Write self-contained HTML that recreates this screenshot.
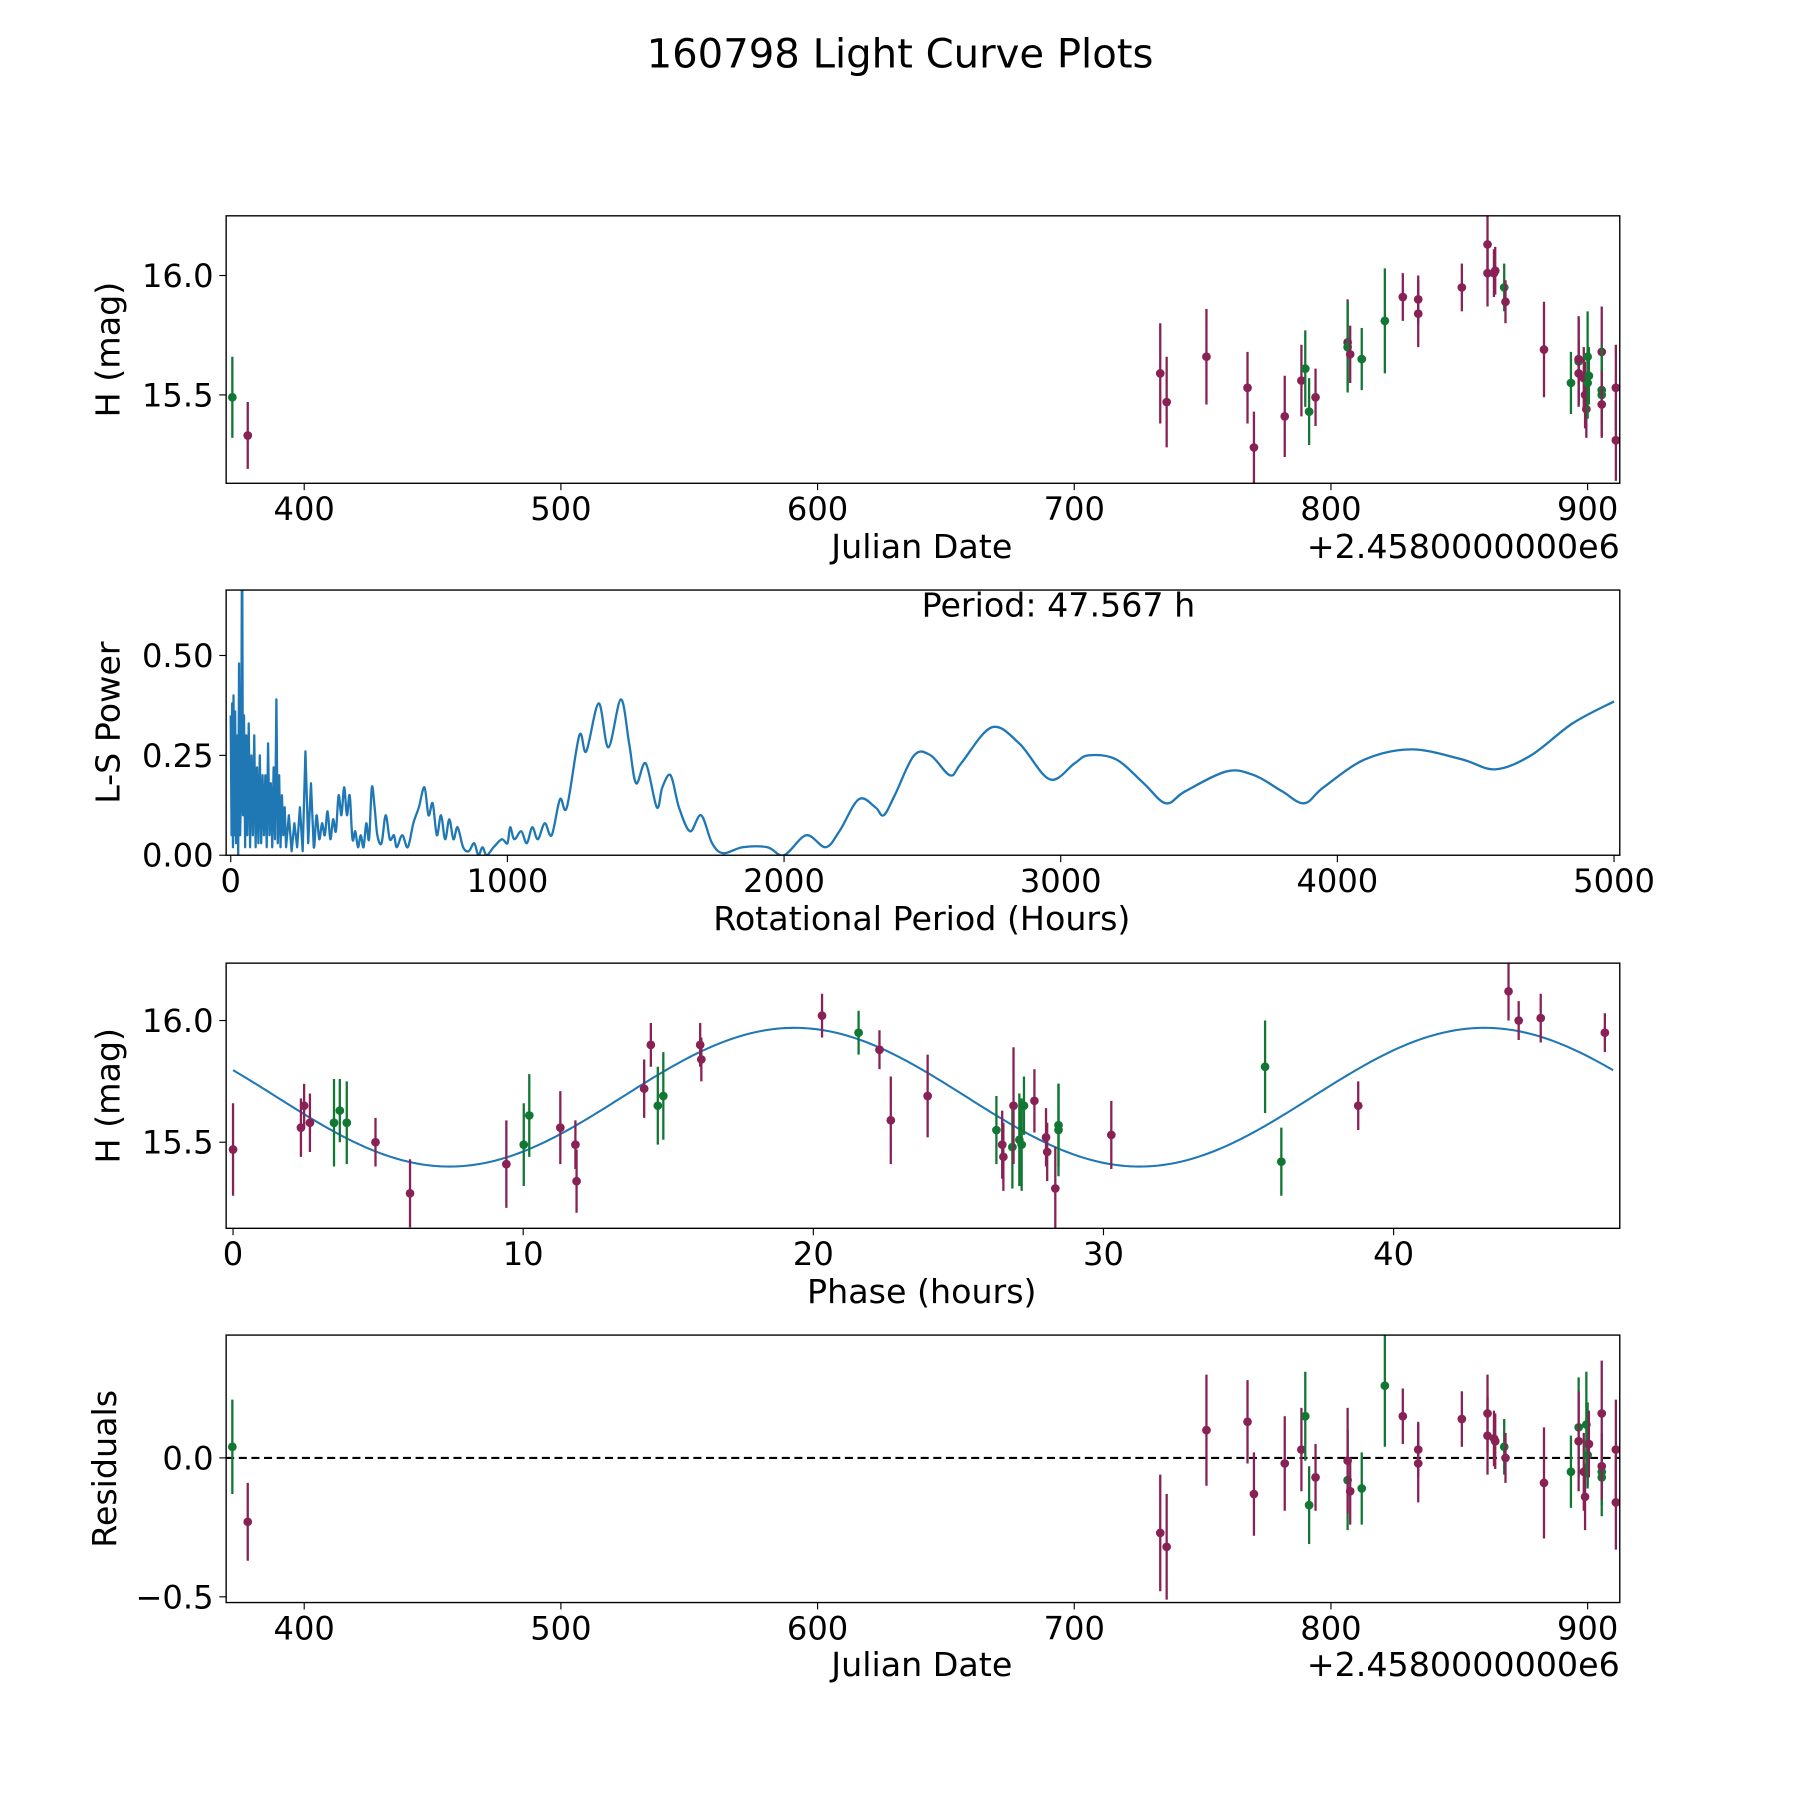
<!DOCTYPE html>
<html><head><meta charset="utf-8"><style>
html,body{margin:0;padding:0;background:#fff}
svg{display:block;font-family:"DejaVu Sans","Liberation Sans",sans-serif}
</style></head><body>
<svg id="fig" width="1800" height="1800" viewBox="0 0 1568 1568" xmlns="http://www.w3.org/2000/svg">
<text x="784" y="59" font-size="35" text-anchor="middle">160798 Light Curve Plots</text>
</svg>
<script>
// ---- data: light curve (Julian date offset, H mag, err, filter) ----
const lcDates = [372,378,733.5,736,751.5,767.5,770,782,788.5,790,791.5,794,806.5,806.5,807.5,812,821,828,834,834,851,861,861,863.5,864,867.5,868,883,893.5,896.5,896.5,896.5,898.5,899,899.5,900,900,900.5,905.5,905.5,905.5,905.5,911,911];
const lcMags  = [15.49,15.33,15.59,15.47,15.66,15.53,15.28,15.41,15.56,15.61,15.43,15.49,15.72,15.70,15.67,15.65,15.81,15.91,15.90,15.84,15.95,16.13,16.01,16.01,16.02,15.95,15.89,15.69,15.55,15.64,15.65,15.59,15.57,15.50,15.44,15.66,15.55,15.58,15.68,15.52,15.50,15.46,15.53,15.31];
const lcErrs  = [0.17,0.14,0.21,0.19,0.20,0.15,0.15,0.17,0.15,0.16,0.14,0.12,0.18,0.19,0.12,0.13,0.22,0.10,0.10,0.14,0.10,0.14,0.14,0.10,0.10,0.10,0.09,0.20,0.13,0.18,0.18,0.14,0.13,0.14,0.12,0.19,0.15,0.12,0.19,0.19,0.12,0.14,0.18,0.17];
const lcBand  = ['g','m','m','m','m','m','m','m','m','g','g','m','m','g','m','g','g','m','m','m','m','m','m','m','m','g','m','m','g','g','m','m','m','m','m','g','g','g','m','g','g','m','m','m'];
// ---- residuals ----
const resDates = [372,378,733.5,736,751.5,767.5,770,782,788.5,790,791.5,794,806.5,806.5,807.5,812,821,828,834,834,851,861,861,863.5,864,867.5,868,883,893.5,896.5,896.5,898.5,899,899.5,900,900,900.5,905.5,905.5,905.5,905.5,911,911];
const resVals  = [0.04,-0.23,-0.27,-0.32,0.10,0.13,-0.13,-0.02,0.03,0.15,-0.17,-0.07,-0.08,-0.01,-0.12,-0.11,0.26,0.15,0.03,-0.02,0.14,0.16,0.08,0.07,0.06,0.04,0.00,-0.09,-0.05,0.11,0.06,-0.05,-0.14,0.12,0.05,0.01,0.05,0.16,-0.05,-0.07,-0.03,0.03,-0.16];
const resErrs  = [0.17,0.14,0.21,0.19,0.20,0.15,0.15,0.17,0.15,0.16,0.14,0.12,0.18,0.19,0.12,0.13,0.22,0.10,0.10,0.14,0.10,0.14,0.14,0.10,0.10,0.10,0.09,0.20,0.13,0.18,0.18,0.14,0.12,0.19,0.15,0.12,0.12,0.19,0.12,0.14,0.12,0.18,0.17];
const resBand  = ['g','m','m','m','m','m','m','m','m','g','g','m','g','m','m','g','g','m','m','m','m','m','m','m','m','g','m','m','g','g','m','m','m','g','g','g','m','m','g','g','m','m','m'];
// ---- phase-folded (phase hours, mag, err, band) ----
const phX = [0.0,2.34,2.45,2.65,3.48,3.68,3.92,4.91,6.1,9.42,10.02,10.21,11.28,11.8,11.84,14.17,14.4,14.64,14.83,16.1,16.14,20.3,21.56,22.28,22.67,23.94,26.31,26.51,26.55,26.86,26.9,27.1,27.18,27.26,27.62,28.02,28.06,28.34,28.45,28.45,30.27,35.57,36.13,38.78,43.96,44.31,45.07,47.28];
const phY = [15.47,15.56,15.65,15.58,15.58,15.63,15.58,15.50,15.29,15.41,15.49,15.61,15.56,15.49,15.34,15.72,15.90,15.65,15.69,15.90,15.84,16.02,15.95,15.88,15.59,15.69,15.55,15.49,15.44,15.48,15.65,15.51,15.49,15.65,15.67,15.52,15.46,15.31,15.57,15.55,15.53,15.81,15.42,15.65,16.12,16.00,16.01,15.95];
const phE = [0.19,0.12,0.09,0.12,0.18,0.13,0.17,0.10,0.14,0.18,0.17,0.17,0.15,0.10,0.13,0.12,0.09,0.16,0.18,0.09,0.09,0.09,0.09,0.08,0.18,0.17,0.14,0.14,0.14,0.17,0.24,0.19,0.19,0.12,0.13,0.12,0.12,0.17,0.17,0.19,0.14,0.19,0.14,0.10,0.12,0.08,0.10,0.08];
const phB = ['m','m','m','m','g','g','g','m','m','m','g','g','m','m','m','m','m','g','g','m','m','m','g','m','m','m','g','m','m','g','m','g','g','g','m','m','m','m','g','g','m','g','g','m','m','m','m','m'];
// ---- sinusoid fit params ----
const fitMean = 15.685, fitAmp = 0.285, fitPhase = 19.35, fitPeriod = 23.78;
// ---- periodogram ----
const lsPeriods = [0,3,5,8,10,13,16,19,23,27,30,34,38,41,44,48,52,56,60,65,70,75,80,85,90,95,100,105,110,115,120,125,130,135,140,145,150,155,160,165,170,175,180,185,190,195,200,210,220,230,240,250,260,270,280,290,300,310,320,330,340,350,360,370,380,390,400,410,420,430,440,450,460,470,480,490,500,510,520,530,545,560,575,590,600,620,640,660,680,700,715,730,745,760,775,790,805,820,840,860,880,895,910,925,950,980,1000,1010,1025,1050,1070,1090,1110,1135,1160,1190,1215,1260,1285,1330,1365,1410,1440,1465,1500,1540,1560,1590,1620,1660,1700,1740,1780,1850,1940,2000,2080,2150,2200,2270,2330,2360,2400,2470,2530,2600,2640,2750,2850,2960,3050,3100,3200,3300,3380,3450,3600,3700,3800,3880,3950,4100,4270,4450,4570,4700,4850,5000];
const lsPower   = [0.35,0.05,0.38,0.02,0.40,0.05,0.36,0.03,0.30,0.0,0.48,0.05,0.2,0.9,0.1,0.35,0.02,0.3,0.05,0.33,0.02,0.25,0.05,0.3,0.02,0.22,0.03,0.25,0.03,0.2,0.05,0.2,0.02,0.28,0.05,0.18,0.02,0.22,0.04,0.39,0.03,0.2,0.02,0.15,0.05,0.12,0.02,0.1,0.01,0.08,0.02,0.12,0.01,0.26,0.03,0.18,0.02,0.1,0.04,0.08,0.05,0.11,0.04,0.09,0.06,0.15,0.1,0.17,0.1,0.15,0.04,0.06,0.02,0.05,0.02,0.08,0.04,0.17,0.12,0.05,0.03,0.1,0.04,0.05,0.02,0.05,0.02,0.08,0.12,0.17,0.1,0.13,0.05,0.1,0.04,0.09,0.04,0.07,0.02,0.01,0.03,0.0,0.02,0.0,0.02,0.04,0.03,0.07,0.04,0.06,0.03,0.07,0.04,0.08,0.05,0.14,0.12,0.3,0.26,0.38,0.27,0.39,0.28,0.18,0.23,0.12,0.17,0.2,0.12,0.06,0.1,0.03,0.005,0.02,0.02,0.0,0.05,0.02,0.06,0.14,0.12,0.1,0.15,0.25,0.25,0.2,0.23,0.32,0.28,0.19,0.23,0.25,0.24,0.18,0.13,0.16,0.21,0.2,0.16,0.13,0.17,0.24,0.265,0.24,0.215,0.25,0.33,0.385];

const NS='http://www.w3.org/2000/svg';
const svg=document.getElementById('fig');
const COL={g:'#117733',m:'#882255'};
function mk(tag,attrs,parent){const e=document.createElementNS(NS,tag);for(const k in attrs)e.setAttribute(k,attrs[k]);(parent||svg).appendChild(e);return e;}
function lin(d0,d1,p0,p1){return v=>p0+(v-d0)*(p1-p0)/(d1-d0);}
const L=197,R=1411,TF=28,LF=29;

function axes(name,top,bot,sx,sy,xt,xtl,yt,ytl,xlab,xlabY,ylab,ylabX,offset){
  const g=mk('g',{});
  
  
  const cid='clip-'+name;
  const cp=mk('clipPath',{id:cid},g);mk('rect',{x:L,y:top,width:R-L,height:bot-top},cp);
  xt.forEach((v,i)=>{const x=sx(v);
    const t=mk('line',{x1:x,x2:x,y1:bot,y2:bot+6,stroke:'#000','stroke-width':1},g);
    
    
    const tx=mk('text',{x:x,y:bot+32,'font-size':TF,'text-anchor':'middle'},g);tx.textContent=xtl[i];
    
    });
  yt.forEach((v,i)=>{const y=sy(v);
    const t=mk('line',{x1:L-6,x2:L,y1:y,y2:y,stroke:'#000','stroke-width':1},g);
    
    
    const tx=mk('text',{x:L-11,y:y+10,'font-size':TF,'text-anchor':'end'},g);tx.textContent=ytl[i];
    
    });
  const xl=mk('text',{x:803,y:xlabY,'font-size':LF,'text-anchor':'middle'},g);xl.textContent=xlab;
  
  
  const cy=(top+bot)/2;
  const yl=mk('text',{x:ylabX,y:cy,'font-size':LF,'text-anchor':'middle',transform:`rotate(-90 ${ylabX} ${cy})`},g);yl.textContent=ylab;
  
  
  if(offset){const o=mk('text',{x:R,y:xlabY,'font-size':LF,'text-anchor':'end'},g);o.textContent=offset;
    
    }
  const plot=mk('g',{'clip-path':`url(#${cid})`},g);
  return {g,plot,frame:()=>{const f=mk('rect',{x:L,y:top,width:R-L,height:bot-top,fill:'none',stroke:'#000','stroke-width':1.2},g);
    
    }};
}
function errpts(plot,xs,ys,es,bs,sx,sy){
  xs.forEach((v,i)=>{const x=sx(v),c=COL[bs[i]];
    const pg=mk('g',{},plot);
    
    
    mk('line',{x1:x,x2:x,y1:sy(ys[i]-es[i]),y2:sy(ys[i]+es[i]),stroke:c,'stroke-width':2},pg);
    mk('circle',{cx:x,cy:sy(ys[i]),r:3.8,fill:c},pg);});
}
// Panel 1
{const top=188,bot=421,sx=lin(400,900,265,1383),sy=lin(16.0,15.5,240,344);
 const a=axes('light-curve-panel',top,bot,sx,sy,[400,500,600,700,800,900],['400','500','600','700','800','900'],[15.5,16.0],['15.5','16.0'],'Julian Date',486,'H (mag)',104,'+2.4580000000e6');
 errpts(a.plot,lcDates,lcMags,lcErrs,lcBand,sx,sy);a.frame();}
// Panel 2
{const top=514,bot=745,sx=lin(0,5000,201,1406),sy=lin(0,0.5,745,571);
 const a=axes('periodogram-panel',top,bot,sx,sy,[0,1000,2000,3000,4000,5000],['0','1000','2000','3000','4000','5000'],[0,0.25,0.5],['0.00','0.25','0.50'],'Rotational Period (Hours)',810,'L-S Power',104,null);
 const P=lsPeriods.map((p,i)=>[sx(p),sy(lsPower[i])]);
 let d='M'+P[0][0].toFixed(2)+','+P[0][1].toFixed(2);
 for(let i=0;i<P.length-1;i++){const p0=P[Math.max(0,i-1)],p1=P[i],p2=P[i+1],p3=P[Math.min(P.length-1,i+2)];
   if(lsPeriods[i]<300){d+='L'+p2[0].toFixed(2)+','+p2[1].toFixed(2);continue;}
   const c1=[p1[0]+(p2[0]-p0[0])/6,p1[1]+(p2[1]-p0[1])/6],c2=[p2[0]-(p3[0]-p1[0])/6,p2[1]-(p3[1]-p1[1])/6];
   d+='C'+c1[0].toFixed(2)+','+c1[1].toFixed(2)+' '+c2[0].toFixed(2)+','+c2[1].toFixed(2)+' '+p2[0].toFixed(2)+','+p2[1].toFixed(2);}
 const pl=mk('path',{d:d,fill:'none',stroke:'#1f77b4','stroke-width':2,'stroke-linejoin':'round'},a.plot);
 
 
 const pt=mk('text',{x:922,y:537,'font-size':LF,'text-anchor':'middle'},a.g);pt.textContent='Period: 47.567 h';
 
 
 a.frame();}
// Panel 3
{const top=839,bot=1070,sx=lin(0,40,203,1214),sy=lin(16.0,15.5,889,995);
 const a=axes('phase-folded-panel',top,bot,sx,sy,[0,10,20,30,40],['0','10','20','30','40'],[15.5,16.0],['15.5','16.0'],'Phase (hours)',1135,'H (mag)',104,null);
 let d='';for(let i=0;i<=300;i++){const p=i*47.567/300;const m=fitMean+fitAmp*Math.cos(2*Math.PI*(p-fitPhase)/fitPeriod);d+=(i?'L':'M')+sx(p).toFixed(2)+','+sy(m).toFixed(2);}
 const fl=mk('path',{d:d,fill:'none',stroke:'#1f77b4','stroke-width':1.8},a.plot);
 
 
 errpts(a.plot,phX,phY,phE,phB,sx,sy);a.frame();}
// Panel 4
{const top=1163,bot=1396,sx=lin(400,900,265,1383),sy=lin(0,-0.5,1270,1391);
 const a=axes('residuals-panel',top,bot,sx,sy,[400,500,600,700,800,900],['400','500','600','700','800','900'],[-0.5,0],['\u22120.5','0.0'],'Julian Date',1460,'Residuals',101,'+2.4580000000e6');
 const z=mk('line',{x1:L,x2:R,y1:sy(0),y2:sy(0),stroke:'#000','stroke-width':1.8,'stroke-dasharray':'7,4'},a.plot);
 
 
 errpts(a.plot,resDates,resVals,resErrs,resBand,sx,sy);a.frame();}
</script>
</body></html>
